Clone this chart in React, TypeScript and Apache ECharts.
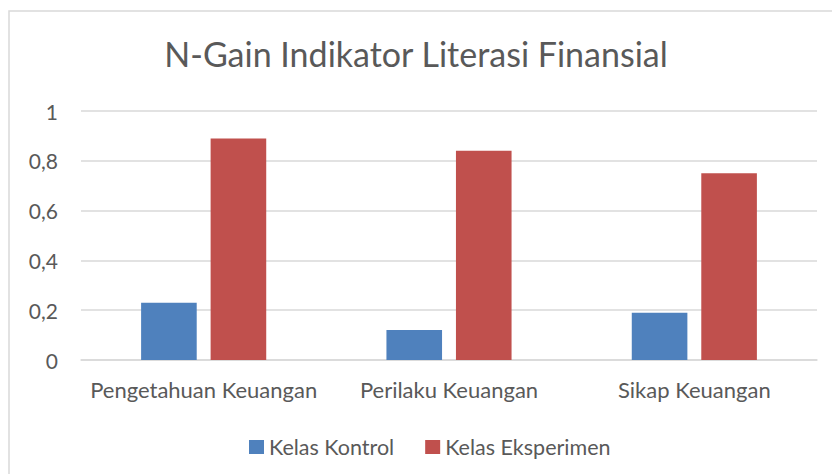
import React, { useEffect, useRef } from "react";
import * as echarts from "echarts";

const categories = ["Pengetahuan Keuangan", "Perilaku Keuangan", "Sikap Keuangan"];
const kontrol = [0.23, 0.12, 0.19];
const eksperimen = [0.89, 0.84, 0.75];
const seriesNames = ["Kelas Kontrol", "Kelas Eksperimen"];
const titleText = "N-Gain Indikator Literasi Finansial";

export default function App() {
  const ref = useRef<HTMLDivElement>(null);
  useEffect(() => {
    const chart = echarts.init(ref.current!, null, { renderer: "svg" });
    const font = "Lato";
    chart.setOption({
      animation: false,
      backgroundColor: "#ffffff",
      title: {
        text: titleText,
        left: "center",
        top: 31,
        textStyle: { fontFamily: font, fontSize: 34, fontWeight: "normal", color: "#595959" },
      },
      graphic: [
        {
          type: "rect",
          shape: { x: 9, y: 11, width: 840, height: 480 },
          style: { fill: "none", stroke: "#d9d9d9", lineWidth: 1.5 },
          silent: true,
        },
      ],
      legend: {
        data: seriesNames,
        top: 431,
        left: 244,
        itemWidth: 15,
        itemHeight: 14,
        itemGap: 31,
        icon: "rect",
        textStyle: { fontFamily: font, fontSize: 21.5, color: "#595959" },
      },
      grid: { left: 81, right: 15, top: 111, bottom: 114, containLabel: false },
      xAxis: {
        type: "category",
        data: categories,
        axisLine: { lineStyle: { color: "#d9d9d9", width: 1.5 } },
        axisTick: { show: false },
        axisLabel: { fontFamily: font, fontSize: 22, color: "#595959", margin: 18, interval: 0 },
      },
      yAxis: {
        type: "value",
        min: 0,
        max: 1,
        interval: 0.2,
        axisLine: { show: false },
        axisTick: { show: false },
        splitLine: { lineStyle: { color: "#d9d9d9", width: 1.5 } },
        axisLabel: {
          fontFamily: font,
          fontSize: 21,
          color: "#595959",
          margin: 23,
          formatter: (v: number) => String(Math.round(v * 10) / 10).replace(".", ","),
        },
      },
      series: [
        {
          name: seriesNames[0],
          type: "bar",
          data: kontrol,
          itemStyle: { color: "#4F81BD" },
          barGap: "25%",
          barCategoryGap: "49%",
        },
        {
          name: seriesNames[1],
          type: "bar",
          data: eksperimen,
          itemStyle: { color: "#C0504D" },
          barGap: "25%",
          barCategoryGap: "49%",
        },
      ],
    });
    return () => chart.dispose();
  }, []);
  return (
    <div
      ref={ref}
      style={{ position: "fixed", left: 0, top: 0, width: 832, height: 474 }}
    />
  );
}
